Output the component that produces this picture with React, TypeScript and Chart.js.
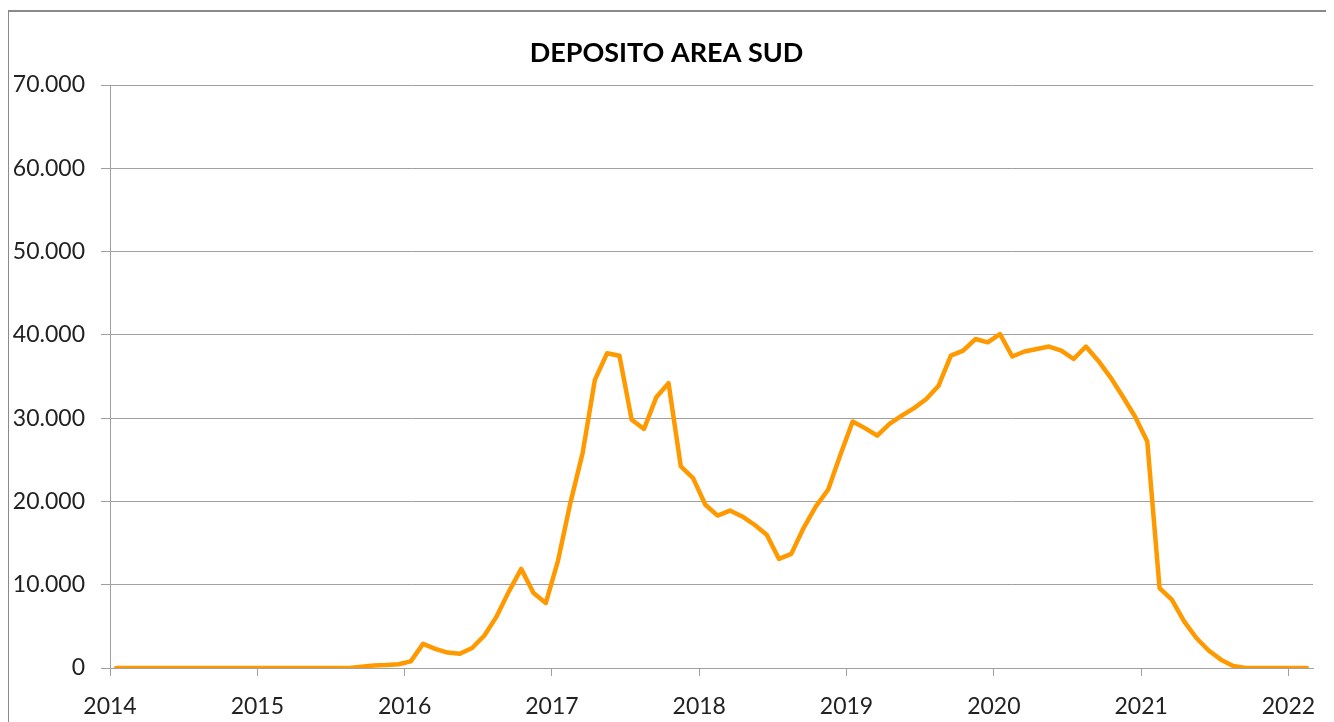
import React, { useEffect, useRef } from "react";
import { Chart, registerables } from "chart.js";

Chart.register(...registerables);

const TITLE = "DEPOSITO AREA SUD";

const years = [2014, 2015, 2016, 2017, 2018, 2019, 2020, 2021, 2022];

// One label per month, Jan 2014 .. Feb 2022
const months: string[] = [];
for (const y of years) {
  for (let m = 1; m <= 12; m++) {
    if (y === 2022 && m > 2) break;
    months.push(`${y}-${String(m).padStart(2, "0")}`);
  }
}

const values2014 = [0, 0, 0, 0, 0, 0, 0, 0, 0, 0, 0, 0];
const values2015 = [0, 0, 0, 0, 0, 0, 0, 0, 150, 300, 350, 450];
const values2016 = [800, 2900, 2300, 1850, 1700, 2400, 3900, 6200, 9200, 11900, 9000, 7800];
const values2017 = [12900, 19800, 25800, 34600, 37800, 37500, 29800, 28700, 32500, 34200, 24200, 22800];
const values2018 = [19600, 18300, 18900, 18200, 17200, 16000, 13100, 13700, 16800, 19400, 21400, 25600];
const values2019 = [29600, 28800, 27900, 29300, 30300, 31200, 32300, 33900, 37500, 38100, 39500, 39100];
const values2020 = [40100, 37400, 38000, 38300, 38600, 38100, 37100, 38600, 36900, 34900, 32600, 30200];
const values2021 = [27200, 9600, 8200, 5600, 3600, 2100, 1000, 250, 0, 0, 0, 0];
const values2022 = [0, 0];

const series = [
  ...values2014, ...values2015, ...values2016, ...values2017, ...values2018,
  ...values2019, ...values2020, ...values2021, ...values2022,
];

const yTicks = [0, 10000, 20000, 30000, 40000, 50000, 60000, 70000];
const yTickLabels = ["0", "10.000", "20.000", "30.000", "40.000", "50.000", "60.000", "70.000"];

const FONT = "Lato, 'Open Sans', sans-serif";

const titleShift = {
  id: "titleShift",
  afterLayout(chart: any) {
    const t = chart.titleBlock;
    if (t) t.left += 11;
  },
};

export default function App() {
  const ref = useRef<HTMLCanvasElement>(null);

  useEffect(() => {
    document.documentElement.style.overflow = "hidden";
    document.body.style.overflow = "hidden";
    const canvas = ref.current!;
    const points = months.map((mm, i) => {
      const [y, m] = mm.split("-").map(Number);
      return { x: y + (m - 0.5) / 12, y: series[i] };
    });
    const chart = new Chart(canvas, {
      type: "line",
      data: {
        datasets: [
          {
            label: TITLE,
            data: points,
            borderColor: "#FF9900",
            backgroundColor: "#FF9900",
            borderWidth: 4.5,
            pointRadius: 0,
            tension: 0,
            borderJoinStyle: "round",
            borderCapStyle: "round",
          },
        ],
      },
      plugins: [titleShift],
      options: {
        responsive: false,
        animation: false,
        layout: { padding: { left: 0, right: 15, top: 0, bottom: 24 } },
        plugins: {
          legend: { display: false },
          tooltip: { enabled: false },
          title: {
            display: true,
            text: TITLE,
            color: "#000",
            font: { family: FONT, size: 27, weight: "bold", lineHeight: 1.2 },
            padding: { top: 24.9, bottom: 15.7 },
          },
        },
        scales: {
          x: {
            type: "linear",
            min: years[0],
            max: years[years.length - 1] + 2 / 12,
            afterFit: (s: any) => {
              s.height = 50;
              s.paddingLeft = 0;
              s.paddingRight = 0;
            },
            afterBuildTicks: (s: any) => {
              s.ticks = years.map((v) => ({ value: v }));
            },
            ticks: {
              autoSkip: false,
              maxRotation: 0,
              includeBounds: false,
              padding: 17,
              color: "#222",
              font: { family: FONT, size: 23 },
              callback: (v: any) => String(Math.round(Number(v))),
            },
            grid: {
              drawOnChartArea: false,
              drawTicks: true,
              tickLength: 8,
              color: "#a0a0a0",
            },
            border: { display: true, color: "#a0a0a0", width: 1 },
          },
          y: {
            min: 0,
            max: 70000,
            afterFit: (s: any) => {
              s.width = 101;
              s.paddingTop = 0;
              s.paddingBottom = 0;
            },
            afterBuildTicks: (s: any) => {
              s.ticks = yTicks.map((v) => ({ value: v }));
            },
            ticks: {
              padding: 16,
              color: "#222",
              font: { family: FONT, size: 23 },
              callback: (v: any) => {
                const idx = yTicks.indexOf(Number(v));
                return idx >= 0 ? yTickLabels[idx] : "";
              },
            },
            grid: {
              color: "#a0a0a0",
              lineWidth: 1,
              drawTicks: true,
              tickLength: 9,
            },
            border: { display: true, color: "#a0a0a0", width: 1 },
          },
        },
      },
    });
    return () => chart.destroy();
  }, []);

  return (
    <div
      style={{
        marginLeft: -1,
        marginTop: 2,
        width: 1319,
        height: 740,
        border: "2px solid #8a8a8a",
        background: "#fff",
      }}
    >
      <canvas ref={ref} width={1319} height={730} style={{ display: "block", width: 1319, height: 730 }} />
    </div>
  );
}
